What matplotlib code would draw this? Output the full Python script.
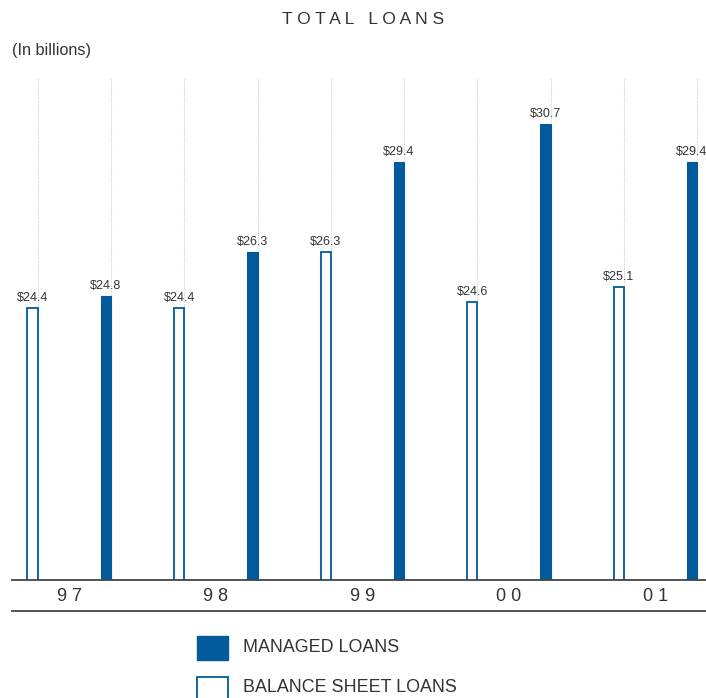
import matplotlib.pyplot as plt
from matplotlib.lines import Line2D
from matplotlib.patches import Rectangle

# loans, billions of dollars
years = ["97", "98", "99", "00", "01"]
balance_sheet = [24.4, 24.4, 26.3, 24.6, 25.1]
managed = [24.8, 26.3, 29.4, 30.7, 29.4]

BLUE = "#005a9c"
TEXT = "#333333"
FONT = ["Liberation Sans", "DejaVu Sans"]
plt.rcParams["font.family"] = FONT

W, H = 706, 698
fig = plt.figure(figsize=(W / 100, H / 100), dpi=100)
ax = fig.add_axes([12 / W, (H - 580) / H, (W - 12) / W, (580 - 78) / H])

bar_w = 0.14
for i, (bs, mg) in enumerate(zip(balance_sheet, managed)):
    x_bs = 2 * i - bar_w / 2
    x_mg = 2 * i + 1 - bar_w / 2
    ax.bar(x_bs, bs, width=bar_w, color="white", edgecolor=BLUE, linewidth=1.3, zorder=3)
    ax.bar(x_mg, mg, width=bar_w, color=BLUE, edgecolor=BLUE, linewidth=0.8, zorder=3)
    for x, v in ((x_bs, bs), (x_mg, mg)):
        ax.annotate(f"${v:.1f}", (x, v), xytext=(0, 3), textcoords="offset points",
                    ha="center", va="bottom", fontsize=9, color=TEXT)
    ax.text(2 * i + 0.5 - bar_w / 2, 15.07 - 0.55, " ".join(years[i]), ha="center", va="center",
            fontsize=13, color=TEXT)

ax.set_xlim(-0.35, 9.12)
ax.set_ylim(15.07, 32.27)
for k in range(10):
    ax.axvline(k, color="#d0d0d0", linewidth=0.8, linestyle=(0, (1, 1)), zorder=1)

ax.set_xticks([])
ax.set_yticks([])
for side in ("top", "right", "left"):
    ax.spines[side].set_visible(False)
ax.spines["bottom"].set_color("#444444")
ax.spines["bottom"].set_linewidth(1.3)
ax.spines["bottom"].set_zorder(4)

fig.add_artist(Line2D([12 / W, 1.0], [(H - 611) / H] * 2, color="#444444", linewidth=1.3))

fig.text(363 / W, 1 - 20 / H, "T O T A L   L O A N S", ha="center", va="center",
         fontsize=12.5, color=TEXT)
fig.text(12 / W, 1 - 50 / H, "(In billions)", ha="left", va="center", fontsize=11.7, color=TEXT)

# legend drawn by hand below the axis
fig.add_artist(Rectangle((197 / W, 1 - 660 / H), 31 / W, 24 / H, facecolor=BLUE,
                         edgecolor=BLUE, transform=fig.transFigure))
fig.add_artist(Rectangle((197 / W, 1 - 701 / H), 31 / W, 24 / H, facecolor="white",
                         edgecolor=BLUE, linewidth=1.3, transform=fig.transFigure))
fig.text(243 / W, 1 - 648 / H, "MANAGED LOANS", ha="left", va="center", fontsize=12.9, color=TEXT)
fig.text(243 / W, 1 - 688 / H, "BALANCE SHEET LOANS", ha="left", va="center", fontsize=12.9, color=TEXT)

fig.savefig("out.png", dpi=100)
